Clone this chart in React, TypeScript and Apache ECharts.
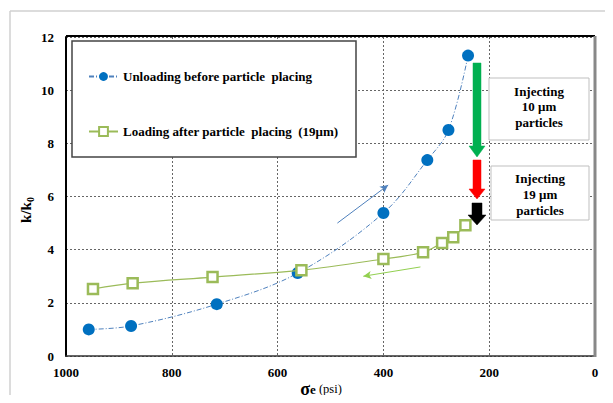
import React, { useEffect, useRef } from "react";
import * as echarts from "echarts";

const unloadX = [957, 877, 715, 562, 400, 317, 277, 240];
const unloadY = [1.0, 1.13, 1.95, 3.12, 5.38, 7.37, 8.5, 11.3];
const loadX = [949, 874, 723, 555, 400, 325, 289, 268, 245];
const loadY = [2.52, 2.74, 2.97, 3.23, 3.65, 3.9, 4.25, 4.47, 4.92];
const xTicks = [0, 200, 400, 600, 800, 1000];
const yTicks = [0, 2, 4, 6, 8, 10, 12];
const seriesNames = ["Unloading before particle  placing", "Loading after particle  placing  (19μm)"];
const box1Lines = ["Injecting", "10 μm", "particles"];
const box2Lines = ["Injecting", "19 μm", "particles"];

const SERIF = "Liberation Serif";

function vArrow(cx: number, top: number, tip: number, shaft: number, head: number, headLen: number, color: string) {
  const hs = shaft / 2;
  const hh = head / 2;
  const base = tip - headLen;
  return {
    type: "polygon",
    shape: {
      points: [
        [cx - hs, top],
        [cx + hs, top],
        [cx + hs, base],
        [cx + hh, base],
        [cx, tip],
        [cx - hh, base],
        [cx - hs, base],
      ],
    },
    style: { fill: color, stroke: color, lineWidth: 0.5 },
    z: 20,
  };
}

function boxText(lines: string[], cx: number, ys: number[]) {
  return lines.map((t, i) => ({
    type: "text",
    x: cx,
    y: ys[i],
    style: {
      text: t,
      fontFamily: SERIF,
      fontWeight: "bold",
      fontSize: 13,
      fill: "#000",
      align: "center",
      verticalAlign: "middle",
    },
    z: 20,
  }));
}

export default function App() {
  const ref = useRef<HTMLDivElement>(null);
  useEffect(() => {
    if (!ref.current) return;
    const chart = echarts.init(ref.current, undefined, { renderer: "svg" });
    const option: any = {
      animation: false,
      backgroundColor: "#fff",
      textStyle: { fontFamily: SERIF },
      grid: { left: 66, right: 18, top: 37, bottom: 47, containLabel: false },
      xAxis: {
        type: "value",
        min: xTicks[0],
        max: xTicks[xTicks.length - 1],
        interval: 200,
        inverse: true,
        axisLine: { show: true, onZero: false, lineStyle: { color: "#333", width: 1.5 } },
        axisTick: { show: false },
        axisLabel: {
          margin: 10,
          color: "#000",
          fontFamily: SERIF,
          fontWeight: "bold",
          fontSize: 13,
          formatter: (v: number) => String(v),
        },
        splitLine: { show: true, lineStyle: { color: "#666", type: [2, 2], width: 1 } },
      },
      yAxis: {
        type: "value",
        min: yTicks[0],
        max: yTicks[yTicks.length - 1],
        interval: 2,
        axisLine: { show: true, onZero: false, lineStyle: { color: "#000", width: 2 } },
        axisTick: { show: false },
        axisLabel: {
          margin: 12,
          color: "#000",
          fontFamily: SERIF,
          fontWeight: "bold",
          fontSize: 13,
        },
        splitLine: { show: true, lineStyle: { color: "#666", type: [2, 2], width: 1 } },
      },
      legend: {
        orient: "vertical",
        left: 83,
        top: 65,
        z: 30,
        itemGap: 42,
        itemWidth: 29,
        itemHeight: 11,
        textStyle: { fontFamily: SERIF, fontWeight: "bold", fontSize: 13, color: "#000" },
        data: seriesNames,
      },
      series: [
        {
          name: seriesNames[0],
          type: "line",
          smooth: 0.35,
          data: unloadX.map((x, i) => [x, unloadY[i]]),
          symbol: "circle",
          symbolSize: 12,
          itemStyle: { color: "#0070c0" },
          lineStyle: { color: "#4f81bd", width: 1, type: [5, 2, 1, 2] },
          z: 5,
          markLine: {
            silent: true,
            symbol: ["none", "arrow"],
            symbolSize: [6, 8],
            label: { show: false },
            lineStyle: { color: "#4f81bd", width: 1, type: "solid" },
            data: [[{ coord: [487, 5.0] }, { coord: [391, 6.43] }]],
          },
        },
        {
          name: seriesNames[1],
          type: "line",
          smooth: 0.35,
          data: loadX.map((x, i) => [x, loadY[i]]),
          symbol: "rect",
          symbolSize: 10,
          itemStyle: { color: "#fff", borderColor: "#9bbb59", borderWidth: 2.5 },
          lineStyle: { color: "#9bbb59", width: 1.2 },
          z: 6,
          markLine: {
            silent: true,
            symbol: ["none", "arrow"],
            symbolSize: [6, 8],
            label: { show: false },
            lineStyle: { color: "#92d050", width: 1, type: "solid" },
            data: [[{ coord: [330, 3.35] }, { coord: [438, 3.0] }]],
          },
        },
      ],
      graphic: [
        { type: "line", shape: { x1: 10, y1: 11, x2: 613, y2: 11 }, style: { stroke: "#d0d0d0", lineWidth: 1.5 }, z: 1 },
        { type: "line", shape: { x1: 10, y1: 11, x2: 10, y2: 403 }, style: { stroke: "#d0d0d0", lineWidth: 1.5 }, z: 1 },
        { type: "line", shape: { x1: 66, y1: 36, x2: 595, y2: 36 }, style: { stroke: "#000", lineWidth: 2 }, z: 10 },
        { type: "line", shape: { x1: 595, y1: 36, x2: 595, y2: 357 }, style: { stroke: "#888", lineWidth: 3 }, z: 10 },
        { type: "rect", shape: { x: 72, y: 41, width: 284, height: 116 }, style: { fill: "#fff", stroke: "#444", lineWidth: 1.5 }, z: 1 },
        { type: "rect", shape: { x: 489, y: 78, width: 100, height: 62 }, style: { fill: "#fff", stroke: "#bfbfbf", lineWidth: 1 }, z: 15 },
        { type: "rect", shape: { x: 491, y: 166, width: 98, height: 54 }, style: { fill: "#fff", stroke: "#bfbfbf", lineWidth: 1 }, z: 15 },
        ...boxText(box1Lines, 539, [91, 106, 122]),
        ...boxText(box2Lines, 540, [178, 194, 210]),
        vArrow(477, 63, 157, 8, 16, 11, "#00b050"),
        vArrow(477, 160, 199, 8, 16, 10, "#ff0000"),
        vArrow(477, 203, 225, 10, 18, 10, "#000000"),
        {
          type: "text",
          x: 26,
          y: 210,
          rotation: Math.PI / 2,
          style: {
            text: "{a|k/k}{b|0}",
            align: "center",
            verticalAlign: "middle",
            rich: {
              a: { fontFamily: SERIF, fontWeight: "bold", fontSize: 15, fill: "#000", lineHeight: 18, verticalAlign: "middle" },
              b: { fontFamily: SERIF, fontWeight: "bold", fontSize: 10, fill: "#000", lineHeight: 18, verticalAlign: "bottom", padding: [6, 0, 0, 0] },
            },
          },
          z: 20,
        },
        {
          type: "text",
          x: 321,
          y: 389,
          style: {
            text: "{s|σ}{e|e}{p| (psi)}",
            align: "center",
            verticalAlign: "middle",
            rich: {
              s: { fontFamily: SERIF, fontWeight: "bold", fontSize: 18, fill: "#000" },
              e: { fontFamily: SERIF, fontWeight: "bold", fontSize: 13, fill: "#000" },
              p: { fontFamily: SERIF, fontSize: 12.5, fill: "#000" },
            },
          },
          z: 20,
        },
      ],
    };
    chart.setOption(option);
    return () => chart.dispose();
  }, []);
  return <div ref={ref} style={{ width: 613, height: 403, margin: -8 }} />;
}
